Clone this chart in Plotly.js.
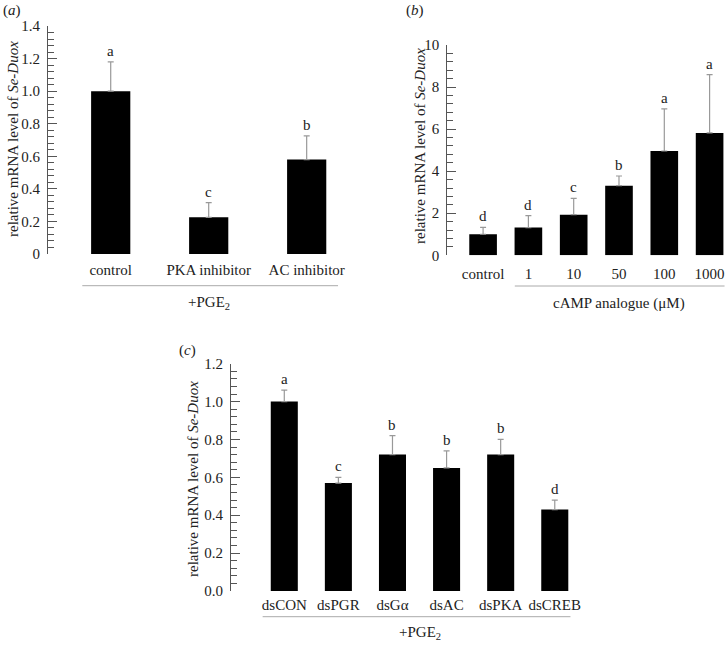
<!DOCTYPE html>
<html>
<head>
<meta charset="utf-8">
<script src="https://cdn.plot.ly/plotly-3.0.1.min.js"></script>
<style>html,body{margin:0;padding:0;background:#fff}#chart{width:725px;height:645px}</style>
</head>
<body>
<div id="chart"></div>
<script>
// ---- data ----
const catA = ['control', 'PKA inhibitor', 'AC inhibitor'];
const valA = [1.0, 0.225, 0.58];
const errA = [0.18, 0.09, 0.145];
const sigA = ['a', 'c', 'b'];
const tickValsA = [0, 0.2, 0.4, 0.6, 0.8, 1.0, 1.2, 1.4];
const tickTextA = ['0', '0.2', '0.4', '0.6', '0.8', '1.0', '1.2', '1.4'];

const catB = ['control', '1', '10', '50', '100', '1000'];
const valB = [1.0, 1.32, 1.93, 3.31, 4.96, 5.82];
const errB = [0.33, 0.57, 0.78, 0.46, 2.0, 2.77];
const sigB = ['d', 'd', 'c', 'b', 'a', 'a'];
const tickValsB = [0, 2, 4, 6, 8, 10];
const tickTextB = ['0', '2', '4', '6', '8', '10'];

const catC = ['dsCON', 'dsPGR', 'dsGα', 'dsAC', 'dsPKA', 'dsCREB'];
const valC = [1.0, 0.57, 0.72, 0.65, 0.72, 0.43];
const errC = [0.06, 0.03, 0.10, 0.09, 0.08, 0.05];
const sigC = ['a', 'c', 'b', 'b', 'b', 'd'];
const tickValsC = [0, 0.2, 0.4, 0.6, 0.8, 1.0, 1.2];
const tickTextC = ['0.0', '0.2', '0.4', '0.6', '0.8', '1.0', '1.2'];

const yTitle = 'relative mRNA level of <i>Se-Duox</i>';
const groupA = '+PGE<sub>2</sub>';
const groupB = 'cAMP analogue (μM)';
const groupC = '+PGE<sub>2</sub>';

// ---- styling ----
const FONT = 'Liberation Serif, Times New Roman, serif';
const AX = '#555';
const TXT = '#222';
const W = 725, H = 645;
const px = v => v / W;
const py = v => (H - v) / H;

function barTrace(x, y, e, xa, ya, width) {
  return {
    type: 'bar', x: x, y: y, xaxis: xa, yaxis: ya, width: width,
    marker: {color: '#000', line: {width: 0}},
    error_y: {type: 'data', array: e, arrayminus: e.map(() => 0), symmetric: false,
              color: '#999', thickness: 1.2, width: 3},
    hoverinfo: 'skip', showlegend: false
  };
}

function yAxis(domain, range, tv, tt, minorDt, anchor) {
  return {
    domain: domain, range: range, anchor: anchor, tickmode: 'array', tickvals: tv, ticktext: tt,
    showline: true, linecolor: AX, linewidth: 1, ticks: 'inside', ticklen: 9, tickwidth: 1, tickcolor: AX,
    minor: {tickmode: 'linear', tick0: 0, dtick: minorDt, ticks: 'inside', ticklen: 6, tickwidth: 1, tickcolor: AX, showgrid: false},
    ticklabelstandoff: 4,
    showgrid: false, zeroline: false, tickfont: {family: FONT, size: 15, color: TXT}, fixedrange: true
  };
}

function xAxis(domain, range, anchor, standoff) {
  return {
    domain: domain, range: range, anchor: anchor, type: 'category', showline: false, ticks: '',
    ticklabelstandoff: standoff,
    showgrid: false, zeroline: false, tickfont: {family: FONT, size: 15, color: TXT}, fixedrange: true
  };
}

const data = [
  barTrace(catA, valA, errA, 'x', 'y', 0.4),
  barTrace(catB, valB, errB, 'x2', 'y2', 0.61),
  barTrace(catC, valC, errC, 'x3', 'y3', 0.5)
];

const annotations = [];
function letters(cats, vals, errs, sig, xr, yr) {
  cats.forEach((c, i) => {
    annotations.push({x: i, y: vals[i] + errs[i], xref: xr, yref: yr, text: sig[i], showarrow: false,
      xanchor: 'center', yanchor: 'bottom', yshift: 1, font: {family: FONT, size: 15, color: TXT}});
  });
}
letters(catA, valA, errA, sigA, 'x', 'y');
letters(catB, valB, errB, sigB, 'x2', 'y2');
letters(catC, valC, errC, sigC, 'x3', 'y3');

function txt(x, y, text, opts) {
  annotations.push(Object.assign({x: x, y: y, xref: 'paper', yref: 'paper', text: text, showarrow: false,
    xanchor: 'center', yanchor: 'middle', font: {family: FONT, size: 15, color: TXT}}, opts || {}));
}
// y titles
txt(px(13), py(139), yTitle, {textangle: -90});
txt(px(420), py(146), yTitle, {textangle: -90});
txt(px(193), py(479), yTitle, {textangle: -90});
// panel labels
txt(px(1), py(10), '(<i>a</i>)', {xanchor: 'left'});
txt(px(404), py(11), '(<i>b</i>)', {xanchor: 'left'});
txt(px(177), py(350), '(<i>c</i>)', {xanchor: 'left'});
// group labels
function grp(x, xr, y, text) {
  annotations.push({x: x, y: y, xref: xr, yref: 'paper', text: text, showarrow: false,
    xanchor: 'center', yanchor: 'middle', font: {family: FONT, size: 15, color: TXT}});
}
grp(1, 'x', py(303), groupA);
grp(3, 'x2', py(303), groupB);
grp(2.5, 'x3', py(633), groupC);

const shapes = [
  {type: 'line', xref: 'x', yref: 'paper', x0: -0.29, x1: 2.32, y0: py(285.7), y1: py(285.7), line: {color: '#aaa', width: 1}},
  {type: 'line', xref: 'x2', yref: 'paper', x0: 0.70, x1: 5.33, y0: py(286), y1: py(286), line: {color: '#aaa', width: 1}},
  {type: 'line', xref: 'x3', yref: 'paper', x0: -0.40, x1: 5.29, y0: py(616.7), y1: py(616.7), line: {color: '#aaa', width: 1}}
];

const layout = {
  width: W, height: H, margin: {l: 0, r: 0, t: 0, b: 0},
  paper_bgcolor: '#fff', plot_bgcolor: 'rgba(0,0,0,0)', showlegend: false,
  font: {family: FONT, size: 15, color: TXT},
  xaxis: xAxis([px(48), px(340)], [-0.64, 2.34], 'y', 5),
  yaxis: yAxis([py(254), py(26)], [0, 1.4], tickValsA, tickTextA, 0.04, 'x'),
  xaxis2: xAxis([px(447.3), px(725)], [-0.79, 5.34], 'y2', 8),
  yaxis2: yAxis([py(255.3), py(45)], [0, 10], tickValsB, tickTextB, 0.4, 'x2'),
  xaxis3: xAxis([px(231), px(571)], [-0.985, 5.3], 'y3', 3),
  yaxis3: yAxis([py(591), py(363.7)], [0, 1.2], tickValsC, tickTextC, 0.04, 'x3'),
  annotations: annotations, shapes: shapes
};

Plotly.newPlot('chart', data, layout, {displayModeBar: false, staticPlot: true});
</script>
</body>
</html>
